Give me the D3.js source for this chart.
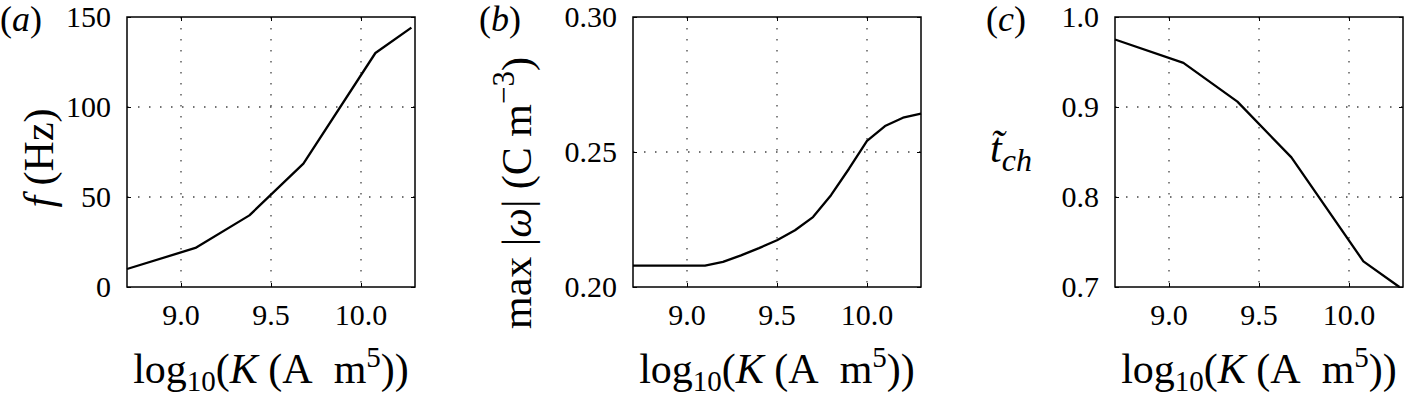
<!DOCTYPE html>
<html>
<head>
<meta charset="utf-8">
<script src="https://cdn.jsdelivr.net/npm/d3@7"></script>
<style>
  body { margin: 0; background: #fff; }
  text { font-family: "Liberation Serif", "Times New Roman", serif; fill: #000; }
  .grid line { stroke: #444; stroke-width: 1.3; stroke-dasharray: 1.5, 9.5; }
  .tick line { stroke: #000; stroke-width: 1; }
</style>
</head>
<body>
<svg id="chart" width="1404" height="399"></svg>
<script>
// x positions shared by panels (a) and (c): log10(K)
var kLog = [8.7, 9.08, 9.38, 9.68, 10.08, 10.28];
// (a) frequency in Hz
var freq = [10, 21.7, 39.8, 68.5, 130, 144.1];
// (c) normalised charge time
var tch = [0.975, 0.949, 0.906, 0.844, 0.7285, 0.700];
// (b) finer sweep
var kLogB = [8.7, 9.0, 9.1, 9.2, 9.3, 9.4, 9.5, 9.6, 9.7, 9.8, 9.9, 10.0, 10.1, 10.2, 10.3];
var omegaMax = [0.2079, 0.2079, 0.2079, 0.2093, 0.2117, 0.2144, 0.2173, 0.221, 0.2259, 0.234, 0.2438, 0.2541, 0.2596, 0.2627, 0.2642];

var xTicks = [9.0, 9.5, 10.0];
var yTicksA = [0, 50, 100, 150];
var yTicksB = [0.20, 0.25, 0.30];
var yTicksC = [0.7, 0.8, 0.9, 1.0];

var svg = d3.select('#chart');
var plotTop = 17, plotBottom = 287, plotWidth = 288;

function drawPanel(left, xs, ys, yDomain, yTicks, yFormat) {
  var g = svg.append('g').attr('transform', 'translate(' + [left, 0] + ')');
  var x = d3.scaleLinear().domain([8.7, 10.3]).range([0, plotWidth]);
  var y = d3.scaleLinear().domain(yDomain).range([plotBottom, plotTop]);

  // dotted grid
  var grid = g.append('g').attr('class', 'grid');
  grid.selectAll('.gx').data(xTicks).enter().append('line')
    .attr('x1', d => x(d)).attr('x2', d => x(d))
    .attr('y1', plotTop).attr('y2', plotBottom);
  grid.selectAll('.gy').data(yTicks.slice(1, -1)).enter().append('line')
    .attr('x1', 0).attr('x2', plotWidth)
    .attr('y1', d => y(d)).attr('y2', d => y(d));

  // inward tick marks on all four sides
  g.append('g').attr('transform', 'translate(' + [0, plotBottom] + ')')
    .call(d3.axisBottom(x).tickValues(xTicks).tickSize(-4).tickFormat(''));
  g.append('g').attr('transform', 'translate(' + [0, plotTop] + ')')
    .call(d3.axisTop(x).tickValues(xTicks).tickSize(-4).tickFormat(''));
  g.append('g')
    .call(d3.axisLeft(y).tickValues(yTicks).tickSize(-4).tickFormat(''));
  g.append('g').attr('transform', 'translate(' + [plotWidth, 0] + ')')
    .call(d3.axisRight(y).tickValues(yTicks).tickSize(-4).tickFormat(''));
  g.selectAll('.domain').remove();

  // tick labels
  g.selectAll('.xlab').data(xTicks).enter().append('text')
    .attr('class', 'xlab')
    .attr('x', d => x(d)).attr('y', 325)
    .attr('text-anchor', 'middle')
    .style('font', '30px "Liberation Serif"')
    .text(d3.format('.1f'));
  g.selectAll('.ylab').data(yTicks).enter().append('text')
    .attr('class', 'ylab')
    .attr('x', -16).attr('y', d => y(d) + 10)
    .attr('text-anchor', 'end')
    .style('font', '30px "Liberation Serif"')
    .text(yFormat);

  g.append('rect')
    .attr('x', 0).attr('y', plotTop)
    .attr('width', plotWidth).attr('height', plotBottom - plotTop)
    .attr('fill', 'none').attr('stroke', '#000').attr('stroke-width', 1.5);

  var line = d3.line().x(d => x(d[0])).y(d => y(d[1]));
  g.append('path')
    .datum(d3.zip(xs, ys))
    .attr('d', line)
    .attr('fill', 'none').attr('stroke', '#000').attr('stroke-width', 2.3)
    .attr('stroke-linejoin', 'round');

  // x label
  var xl = g.append('text')
    .attr('x', plotWidth / 2).attr('y', 383)
    .attr('text-anchor', 'middle').attr('font-size', 42);
  xl.append('tspan').text('log');
  xl.append('tspan').attr('font-size', 29).attr('dy', 8).text('10');
  xl.append('tspan').attr('dy', -8).text('(');
  xl.append('tspan').attr('font-style', 'italic').text('K');
  xl.append('tspan').text(' (A\u2002m');
  xl.append('tspan').attr('font-size', 29).attr('dy', -16).text('5');
  xl.append('tspan').attr('dy', 16).text('))');
  return g;
}

drawPanel(127, kLog, freq, [0, 150], yTicksA, d3.format('d'));
drawPanel(633, kLogB, omegaMax, [0.20, 0.30], yTicksB, d3.format('.2f'));
drawPanel(1115, kLog, tch, [0.7, 1.0], yTicksC, d3.format('.1f'));

// panel letters
[['a', 0], ['b', 479], ['c', 986]].forEach(function(p) {
  var t = svg.append('text').attr('x', p[1]).attr('y', 31).attr('font-size', 36);
  t.append('tspan').text('(');
  t.append('tspan').attr('font-style', 'italic').text(p[0]);
  t.append('tspan').text(')');
});

// y labels
var yla = svg.append('text')
  .attr('transform', 'translate(' + [53, 158] + ') rotate(-90)')
  .attr('text-anchor', 'middle').attr('font-size', 42);
yla.append('tspan').attr('font-style', 'italic').text('f');
yla.append('tspan').text(' (Hz)');

var ylb = svg.append('text')
  .attr('transform', 'translate(' + [531, 193] + ') rotate(-90)')
  .attr('text-anchor', 'middle').attr('font-size', 42);
ylb.append('tspan').text('max |');
ylb.append('tspan').attr('font-style', 'italic').text('ω');
ylb.append('tspan').text('| (C m');
ylb.append('tspan').attr('font-size', 31).attr('dy', -17).text('−3');
ylb.append('tspan').attr('dy', 17).text(')');

var ylc = svg.append('text').attr('x', 990).attr('y', 162).attr('font-size', 42);
ylc.append('tspan').attr('font-style', 'italic').text('t\u0303');
ylc.append('tspan').attr('font-style', 'italic').attr('font-size', 32).attr('dy', 9).text('ch');
</script>
</body>
</html>
